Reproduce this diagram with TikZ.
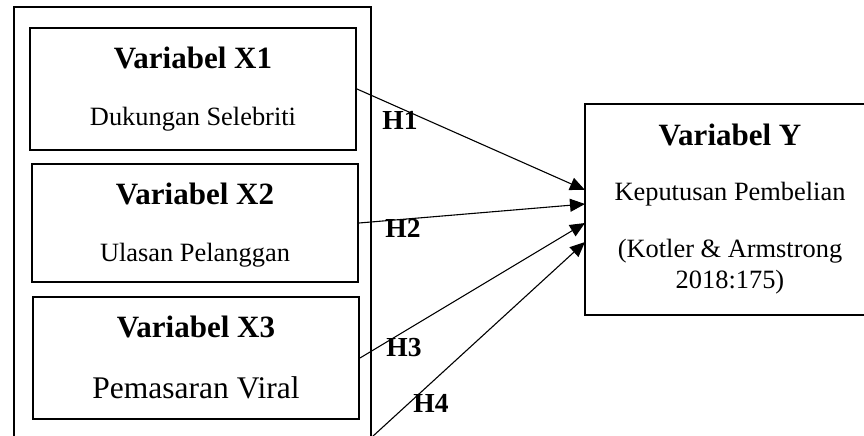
\documentclass[tikz,border=0pt]{standalone}
\usepackage{fontspec}
\setmainfont{Liberation Serif}
\usetikzlibrary{arrows.meta}
\begin{document}
\begin{tikzpicture}[x=1pt,y=-1pt,
  boxstyle/.style={draw=black,line width=2pt,inner sep=0pt},
  ttl/.style={font=\fontsize{31}{36}\selectfont\bfseries,anchor=base,inner sep=0pt},
  sub/.style={font=\fontsize{26.4}{31}\selectfont,anchor=base,inner sep=0pt},
  hlab/.style={font=\fontsize{27.5}{32}\selectfont\bfseries,inner sep=0pt},
  arr/.style={line width=1.1pt,-{Triangle[length=15pt,width=13pt]}}]
\useasboundingbox (0,0) rectangle (864,436);
\clip (0,0) rectangle (864,436);
% outer frame
\draw[line width=2.6pt] (14,460) -- (14,7) -- (371,7) -- (371,460);
% boxes
\node[boxstyle,minimum width=326pt,minimum height=122pt] (x1) at (193,89) {};
\node[boxstyle,minimum width=326pt,minimum height=118pt] (x2) at (195,223) {};
\node[boxstyle,minimum width=326pt,minimum height=122pt] (x3) at (196,358) {};
\node[boxstyle,minimum width=295pt,minimum height=211pt] (y) at (732.5,209.5) {};
% texts
\node[ttl] (x1t) at (193,69) {Variabel X1};
\node[sub] (x1s) at (193,125) {Dukungan Selebriti};
\node[ttl] (x2t) at (195,204) {Variabel X2};
\node[sub] (x2s) at (195,261) {Ulasan Pelanggan};
\node[ttl] (x3t) at (196,337) {Variabel X3};
\node[font=\fontsize{31.5}{36}\selectfont,anchor=base,inner sep=0pt] (x3s) at (196,398) {Pemasaran Viral};
\node[ttl] (yt) at (730,145) {Variabel Y};
\node[sub] (ys) at (730,200) {Keputusan Pembelian};
\node[sub] (yc1) at (730,257) {(Kotler \& Armstrong};
\node[sub] (yc2) at (730,288) {2018:175)};
% arrow end points
\coordinate (t1) at (585,190);
\coordinate (t2) at (585,204);
\coordinate (t3) at (585,223);
\coordinate (t4) at (585,242);
\coordinate (s4) at (372,437);
\draw[arr] (x1.east) -- (t1);
\draw[arr] (x2.east) -- (t2);
\draw[arr] (x3.east) -- (t3);
\draw[arr] (s4) -- (t4);
% labels
\node[hlab] (h1) at (400,120) {H1};
\node[hlab] (h2) at (403,228) {H2};
\node[hlab] (h3) at (404,348) {H3};
\node[hlab] (h4) at (431,403) {H4};
\end{tikzpicture}
\end{document}
